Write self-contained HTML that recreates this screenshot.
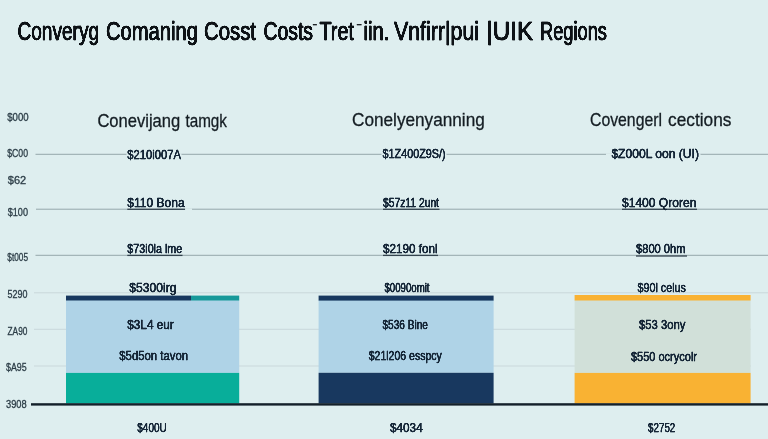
<!DOCTYPE html>
<html><head><meta charset="utf-8">
<style>
html,body{margin:0;padding:0;background:#deeeef;}
body{width:768px;height:439px;overflow:hidden;}
svg{display:block;}
text{font-family:"Liberation Sans",sans-serif;}
</style></head><body>
<svg width="768" height="439" viewBox="0 0 768 439">
<defs><filter id="hb" x="-5%" y="-20%" width="110%" height="140%" color-interpolation-filters="sRGB"><feGaussianBlur stdDeviation="0.7 0"/><feComponentTransfer><feFuncA type="linear" slope="2.1" intercept="-0.12"/></feComponentTransfer></filter><filter id="hc" x="-5%" y="-20%" width="110%" height="140%" color-interpolation-filters="sRGB"><feGaussianBlur stdDeviation="0.4 0"/><feComponentTransfer><feFuncA type="linear" slope="1.7" intercept="-0.08"/></feComponentTransfer></filter></defs>
<rect x="0" y="0" width="768" height="439" fill="#deeeef"/>
<rect x="35.5" y="153.8" width="732.5" height="1" fill="#94a7ab"/>
<rect x="36" y="208.7" width="732" height="1" fill="#94a7ab"/>
<rect x="35.5" y="254.8" width="732.5" height="1" fill="#94a7ab"/>
<rect x="34" y="292.3" width="734" height="1" fill="#c9d8db"/>
<rect x="34" y="328.8" width="717" height="1" fill="#c9d8db"/>
<rect x="34" y="365.5" width="717" height="1" fill="#c9d8db"/>
<rect x="127.3" y="208.65" width="57.7" height="1.3" fill="#33434e"/>
<rect x="383" y="208.65" width="56.5" height="1.3" fill="#33434e"/>
<rect x="622" y="208.65" width="75" height="1.3" fill="#33434e"/>
<rect x="127.3" y="254.75" width="55.2" height="1.3" fill="#33434e"/>
<rect x="383" y="254.75" width="55" height="1.3" fill="#33434e"/>
<rect x="636" y="255.35" width="51" height="1.3" fill="#33434e"/>
<rect x="126.5" y="153.4" width="55" height="1.6" fill="#deeeef"/>
<rect x="381.5" y="153.4" width="65" height="1.6" fill="#deeeef"/>
<rect x="606" y="153.4" width="94.5" height="1.6" fill="#deeeef"/>
<rect x="185.2" y="208.4" width="6.8" height="1.6" fill="#deeeef"/>
<rect x="66" y="300" width="173.2" height="72.9" fill="#afd3e7"/>
<rect x="66" y="295.6" width="125" height="4.9" fill="#18385f"/>
<rect x="191" y="295.6" width="48.2" height="4.9" fill="#17999a"/>
<rect x="66" y="372.9" width="173.2" height="30.6" fill="#08ae9a"/>
<rect x="318.6" y="300" width="175" height="72.8" fill="#afd3e7"/>
<rect x="318.6" y="295.6" width="175" height="5" fill="#18385f"/>
<rect x="318.6" y="372.8" width="175" height="30.7" fill="#18385f"/>
<rect x="574.6" y="300" width="176" height="72.9" fill="#d1e0d9"/>
<rect x="574.6" y="295" width="176" height="5.5" fill="#f9b233"/>
<rect x="574.6" y="372.9" width="176" height="30.6" fill="#f9b233"/>
<rect x="31" y="403.2" width="737" height="2.4" fill="#13202a"/>
<text x="17.5" y="39.6" font-size="26" fill="#0e1317" stroke="#0e1317" stroke-width="0.5" filter="url(#hb)" textLength="81.5" lengthAdjust="spacingAndGlyphs" font-weight="normal">Converyg</text>
<text x="106" y="39.6" font-size="26" fill="#0e1317" stroke="#0e1317" stroke-width="0.5" filter="url(#hb)" textLength="92" lengthAdjust="spacingAndGlyphs" font-weight="normal">Comaning</text>
<text x="204" y="39.6" font-size="26" fill="#0e1317" stroke="#0e1317" stroke-width="0.5" filter="url(#hb)" textLength="52" lengthAdjust="spacingAndGlyphs" font-weight="normal">Cosst</text>
<text x="263.5" y="39.6" font-size="26" fill="#0e1317" stroke="#0e1317" stroke-width="0.5" filter="url(#hb)" textLength="49.5" lengthAdjust="spacingAndGlyphs" font-weight="normal">Costs</text>
<text x="313" y="41.3" font-size="22" fill="#0e1317" stroke="#0e1317" stroke-width="0.4" textLength="3.8" lengthAdjust="spacingAndGlyphs" font-weight="normal">¯</text>
<text x="319.5" y="39.6" font-size="26" fill="#0e1317" stroke="#0e1317" stroke-width="0.5" filter="url(#hb)" textLength="34.5" lengthAdjust="spacingAndGlyphs" font-weight="normal">Tret</text>
<text x="363.5" y="39.6" font-size="26" fill="#0e1317" stroke="#0e1317" stroke-width="0.5" filter="url(#hb)" textLength="26" lengthAdjust="spacingAndGlyphs" font-weight="normal">iin.</text>
<text x="357" y="40.8" font-size="22" fill="#0e1317" stroke="#0e1317" stroke-width="0.4" textLength="4.4" lengthAdjust="spacingAndGlyphs" font-weight="normal">¯</text>
<text x="394" y="39.6" font-size="26" fill="#0e1317" stroke="#0e1317" stroke-width="0.5" filter="url(#hb)" textLength="85" lengthAdjust="spacingAndGlyphs" font-weight="normal">Vnfirr|pui</text>
<text x="486.5" y="39.6" font-size="26" fill="#0e1317" stroke="#0e1317" stroke-width="0.5" filter="url(#hb)" textLength="46.5" lengthAdjust="spacingAndGlyphs" font-weight="normal">|UIK</text>
<text x="540" y="39.6" font-size="26" fill="#0e1317" stroke="#0e1317" stroke-width="0.5" filter="url(#hb)" textLength="67" lengthAdjust="spacingAndGlyphs" font-weight="normal">Regions</text>
<text x="97.4" y="126.7" font-size="18.5" fill="#141d23" stroke="#141d23" stroke-width="0.3" textLength="82.8" lengthAdjust="spacingAndGlyphs" font-weight="normal">Conevijang</text>
<text x="185.4" y="126.7" font-size="18.5" fill="#141d23" stroke="#141d23" stroke-width="0.3" textLength="41.6" lengthAdjust="spacingAndGlyphs" font-weight="normal">tamgk</text>
<text x="352" y="125.8" font-size="18.5" fill="#141d23" stroke="#141d23" stroke-width="0.3" textLength="132.8" lengthAdjust="spacingAndGlyphs" font-weight="normal">Conelyenyanning</text>
<text x="590" y="126.4" font-size="18.5" fill="#141d23" stroke="#141d23" stroke-width="0.3" textLength="72" lengthAdjust="spacingAndGlyphs" font-weight="normal">Covengerl</text>
<text x="668" y="126.4" font-size="18.5" fill="#141d23" stroke="#141d23" stroke-width="0.3" textLength="63.4" lengthAdjust="spacingAndGlyphs" font-weight="normal">cections</text>
<text x="127.3" y="158.8" font-size="12.6" fill="#172839" stroke="#172839" stroke-width="0.3" filter="url(#hc)" textLength="53.6" lengthAdjust="spacingAndGlyphs" font-weight="normal">$210i007A</text>
<text x="382.6" y="157.9" font-size="12.6" fill="#172839" stroke="#172839" stroke-width="0.3" filter="url(#hc)" textLength="63" lengthAdjust="spacingAndGlyphs" font-weight="normal">$1Z400Z9S/)</text>
<text x="611.4" y="158.4" font-size="12.6" fill="#172839" stroke="#172839" stroke-width="0.3" filter="url(#hc)" textLength="87.6" lengthAdjust="spacingAndGlyphs" font-weight="normal">$Z000L oon (UI)</text>
<text x="127.3" y="206.9" font-size="12.6" fill="#172839" stroke="#172839" stroke-width="0.3" filter="url(#hc)" textLength="57.3" lengthAdjust="spacingAndGlyphs" font-weight="normal">$110 Bona</text>
<text x="383" y="206.9" font-size="12.6" fill="#172839" stroke="#172839" stroke-width="0.3" filter="url(#hc)" textLength="56" lengthAdjust="spacingAndGlyphs" font-weight="normal">$57z11 2unt</text>
<text x="622" y="206.9" font-size="12.6" fill="#172839" stroke="#172839" stroke-width="0.3" filter="url(#hc)" textLength="74.4" lengthAdjust="spacingAndGlyphs" font-weight="normal">$1400 Qroren</text>
<text x="127.3" y="252.8" font-size="12.6" fill="#172839" stroke="#172839" stroke-width="0.3" filter="url(#hc)" textLength="55" lengthAdjust="spacingAndGlyphs" font-weight="normal">$73i0la lme</text>
<text x="383" y="253" font-size="12.6" fill="#172839" stroke="#172839" stroke-width="0.3" filter="url(#hc)" textLength="54.5" lengthAdjust="spacingAndGlyphs" font-weight="normal">$2190 fonl</text>
<text x="636" y="253" font-size="12.6" fill="#172839" stroke="#172839" stroke-width="0.3" filter="url(#hc)" textLength="49.5" lengthAdjust="spacingAndGlyphs" font-weight="normal">$800 0hm</text>
<text x="129.3" y="292.3" font-size="12.6" fill="#172839" stroke="#172839" stroke-width="0.3" filter="url(#hc)" textLength="47.3" lengthAdjust="spacingAndGlyphs" font-weight="normal">$5300irg</text>
<text x="384.5" y="292.3" font-size="12.6" fill="#172839" stroke="#172839" stroke-width="0.3" filter="url(#hc)" textLength="45" lengthAdjust="spacingAndGlyphs" font-weight="normal">$0090omit</text>
<text x="637.4" y="292.3" font-size="12.6" fill="#172839" stroke="#172839" stroke-width="0.3" filter="url(#hc)" textLength="48.6" lengthAdjust="spacingAndGlyphs" font-weight="normal">$90l celus</text>
<text x="127.3" y="328.7" font-size="12.6" fill="#172839" stroke="#172839" stroke-width="0.3" filter="url(#hc)" textLength="46.4" lengthAdjust="spacingAndGlyphs" font-weight="normal">$3L4 eur</text>
<text x="382.5" y="328.7" font-size="12.6" fill="#172839" stroke="#172839" stroke-width="0.3" filter="url(#hc)" textLength="45.5" lengthAdjust="spacingAndGlyphs" font-weight="normal">$536 Bine</text>
<text x="639" y="328.7" font-size="12.6" fill="#172839" stroke="#172839" stroke-width="0.3" filter="url(#hc)" textLength="46.5" lengthAdjust="spacingAndGlyphs" font-weight="normal">$53 3ony</text>
<text x="119.3" y="360.3" font-size="12.6" fill="#172839" stroke="#172839" stroke-width="0.3" filter="url(#hc)" textLength="68.7" lengthAdjust="spacingAndGlyphs" font-weight="normal">$5d5on tavon</text>
<text x="368.7" y="360.3" font-size="12.6" fill="#172839" stroke="#172839" stroke-width="0.3" filter="url(#hc)" textLength="73.1" lengthAdjust="spacingAndGlyphs" font-weight="normal">$21l206 esspcy</text>
<text x="631" y="361" font-size="12.6" fill="#172839" stroke="#172839" stroke-width="0.3" filter="url(#hc)" textLength="66" lengthAdjust="spacingAndGlyphs" font-weight="normal">$550 ocrycolr</text>
<text x="137.3" y="431.7" font-size="12.5" fill="#172839" stroke="#172839" stroke-width="0.25" filter="url(#hc)" textLength="29.4" lengthAdjust="spacingAndGlyphs" font-weight="normal">$400U</text>
<text x="390" y="431.7" font-size="12.5" fill="#172839" stroke="#172839" stroke-width="0.25" filter="url(#hc)" textLength="32.7" lengthAdjust="spacingAndGlyphs" font-weight="normal">$4034</text>
<text x="648" y="431.7" font-size="12.5" fill="#172839" stroke="#172839" stroke-width="0.25" filter="url(#hc)" textLength="27.3" lengthAdjust="spacingAndGlyphs" font-weight="normal">$2752</text>
<text x="7.2" y="120.8" font-size="10.5" fill="#2b3c46" stroke="#2b3c46" stroke-width="0.3" textLength="21.4" lengthAdjust="spacingAndGlyphs" font-weight="normal">$000</text>
<text x="7.2" y="156.8" font-size="10.5" fill="#2b3c46" stroke="#2b3c46" stroke-width="0.3" textLength="20.8" lengthAdjust="spacingAndGlyphs" font-weight="normal">$C00</text>
<text x="7.8" y="184.2" font-size="10.5" fill="#2b3c46" stroke="#2b3c46" stroke-width="0.3" textLength="18.4" lengthAdjust="spacingAndGlyphs" font-weight="normal">$62</text>
<text x="7.7" y="216.4" font-size="10.5" fill="#2b3c46" stroke="#2b3c46" stroke-width="0.3" textLength="20.3" lengthAdjust="spacingAndGlyphs" font-weight="normal">$100</text>
<text x="7.3" y="260.5" font-size="10.5" fill="#2b3c46" stroke="#2b3c46" stroke-width="0.3" textLength="20.7" lengthAdjust="spacingAndGlyphs" font-weight="normal">$t005</text>
<text x="7.5" y="298.3" font-size="10.5" fill="#2b3c46" stroke="#2b3c46" stroke-width="0.3" textLength="19.9" lengthAdjust="spacingAndGlyphs" font-weight="normal">5290</text>
<text x="7.5" y="335" font-size="10.5" fill="#2b3c46" stroke="#2b3c46" stroke-width="0.3" textLength="19.9" lengthAdjust="spacingAndGlyphs" font-weight="normal">ZA90</text>
<text x="6" y="371.3" font-size="10.5" fill="#2b3c46" stroke="#2b3c46" stroke-width="0.3" textLength="20.7" lengthAdjust="spacingAndGlyphs" font-weight="normal">$A95</text>
<text x="6" y="407.6" font-size="10.5" fill="#2b3c46" stroke="#2b3c46" stroke-width="0.3" textLength="20.7" lengthAdjust="spacingAndGlyphs" font-weight="normal">3908</text>
</svg>
</body></html>
